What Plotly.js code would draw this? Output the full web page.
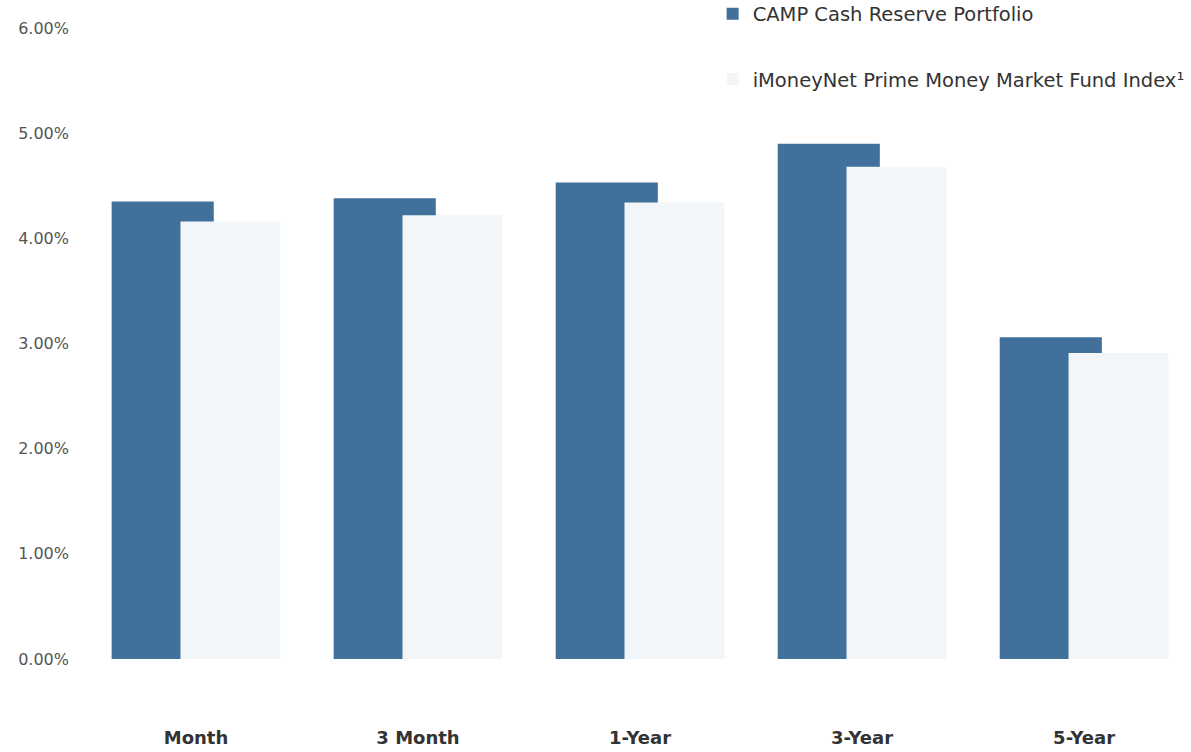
<!DOCTYPE html>
<html>
<head>
<meta charset="utf-8">
<script src="https://cdn.plot.ly/plotly-3.0.1.min.js"></script>
<style>html,body{margin:0;padding:0;background:#fff;}#chart{width:1191px;height:752px;}</style>
</head>
<body>
<div id="chart"></div>
<script>
const categories = ["Month", "3 Month", "1-Year", "3-Year", "5-Year"];
const campValues = [4.35, 4.38, 4.53, 4.90, 3.06];
const indexValues = [4.16, 4.22, 4.34, 4.68, 2.91];
const seriesNames = ["CAMP Cash Reserve Portfolio", "iMoneyNet Prime Money Market Fund Index\u00b9"];
const yTickVals = [0, 1, 2, 3, 4, 5, 6];
const yTickText = ["0.00%", "1.00%", "2.00%", "3.00%", "4.00%", "5.00%", "6.00%"];

const traces = [
  {
    type: "bar", name: seriesNames[0], x: categories, y: campValues,
    offset: -0.38, width: 0.46, legendgroup: "a",
    marker: {color: "#41719a", line: {width: 0}},
    hoverinfo: "skip"
  },
  {
    type: "bar", name: seriesNames[1], x: categories, y: indexValues,
    offset: -0.07, width: 0.45, legendgroup: "b",
    marker: {color: "#f2f6f9", line: {width: 0}},
    hoverinfo: "skip"
  }
];

const layout = {
  width: 1191, height: 752,
  paper_bgcolor: "#ffffff", plot_bgcolor: "#ffffff",
  margin: {l: 80, r: 5, t: 28, b: 93, autoexpand: false},
  barmode: "overlay",
  showlegend: true,
  legend: {
    x: 0.572, y: 1.053, xanchor: "left", yanchor: "top",
    orientation: "v", tracegroupgap: 37,
    font: {family: "DejaVu Sans, sans-serif", size: 19.5, color: "#333"},
    bgcolor: "rgba(0,0,0,0)"
  },
  xaxis: {
    type: "category",
    range: [-0.5225, 4.459],
    showgrid: false, zeroline: false, showline: false, ticks: "",
    ticklabelstandoff: 66,
    tickfont: {family: "DejaVu Sans, sans-serif", size: 18, color: "#333", weight: "bold"}
  },
  yaxis: {
    range: [0, 6],
    tickvals: yTickVals, ticktext: yTickText,
    showgrid: false, zeroline: false, showline: false, ticks: "",
    ticklabelstandoff: 10,
    tickfont: {family: "DejaVu Sans, sans-serif", size: 16, color: "#555"}
  }
};

Plotly.newPlot("chart", traces, layout, {displayModeBar: false, staticPlot: true});
</script>
</body>
</html>
